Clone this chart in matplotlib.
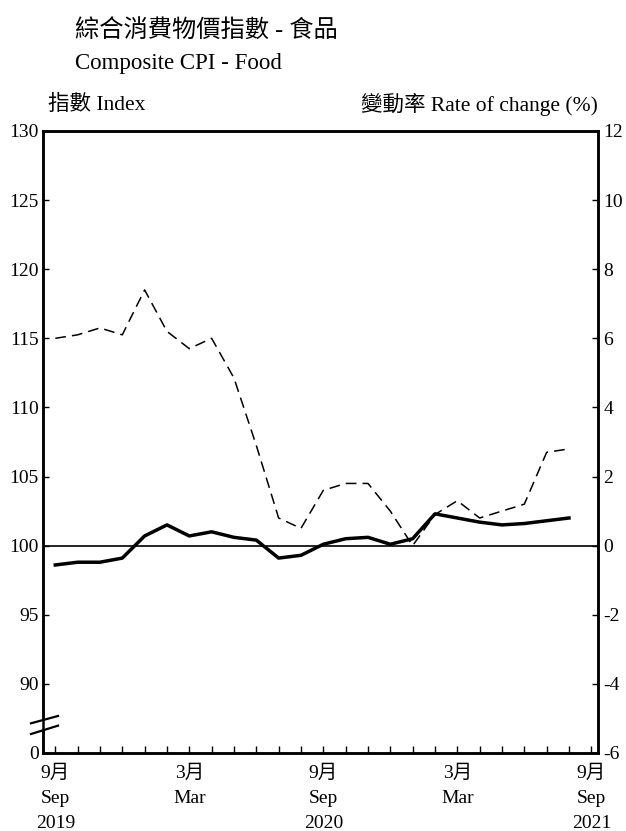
import numpy as np
import matplotlib
matplotlib.use('Agg')
import matplotlib.pyplot as plt
from matplotlib.lines import Line2D
from matplotlib.patches import Rectangle

plt.rcParams['font.family'] = ['Liberation Serif', 'Noto Sans CJK TC', 'DejaVu Sans']
plt.rcParams['axes.unicode_minus'] = False

# monthly data, Sep 2019 - Aug 2021
index_food = [98.6, 98.8, 98.8, 99.1, 100.7, 101.5, 100.7, 101.0, 100.6, 100.4,
              99.1, 99.3, 100.1, 100.5, 100.6, 100.1, 100.5, 102.3, 102.0, 101.7,
              101.5, 101.6, 101.8, 102.0]
rate_change = [6.0, 6.1, 6.3, 6.1, 7.4, 6.2, 5.7, 6.0, 4.85, 2.9,
               0.8, 0.5, 1.6, 1.8, 1.8, 1.0, 0.0, 0.9, 1.3, 0.8,
               1.0, 1.2, 2.7, 2.8]
tick_labels = ['9月\nSep\n2019', '3月\nMar', '9月\nSep\n2020', '3月\nMar', '9月\nSep\n2021']
left_ticks = [85, 90, 95, 100, 105, 110, 115, 120, 125, 130]
left_labels = ['0', '90', '95', '100', '105', '110', '115', '120', '125', '130']

months = np.arange(len(index_food))

fig = plt.figure(figsize=(6.26, 8.31), dpi=100)
ax = fig.add_axes([0.0687, 0.0939, 0.8866, 0.7485])
ax2 = ax.twinx()

ax.set_xlim(-0.55, 24.3)
ax.set_ylim(85, 130)
ax2.set_ylim(-6, 12)

ax.axhline(100, color='black', lw=1.2, zorder=1)
ax.plot(months, index_food, color='black', lw=2.5, zorder=3)
ax2.plot(months, rate_change, color='black', lw=1.1, dashes=(7, 4), zorder=2)

ax.set_yticks(left_ticks)
ax.set_yticklabels(left_labels)
ax2.set_yticks(np.arange(-6, 13, 2))
ax.set_xticks([0, 6, 12, 18, 24])
ax.set_xticks(np.arange(0, 25), minor=True)
ax.set_xticklabels(tick_labels, linespacing=1.62)

for a in (ax, ax2):
    for s in a.spines.values():
        s.set_linewidth(1.8)
ax.tick_params(axis='y', direction='in', length=4, width=1, labelsize=14, pad=3)
ax2.tick_params(axis='y', direction='in', length=4, width=1, labelsize=14, pad=4)
ax.tick_params(axis='x', which='both', direction='in', length=5, width=1, labelsize=14, pad=8)

# axis break on the left spine
ax.add_patch(Rectangle((-0.01, 0.037), 0.02, 0.016, transform=ax.transAxes,
                       facecolor='white', edgecolor='none', clip_on=False, zorder=10))
for y0, y1 in [(0.0477, 0.0595), (0.0305, 0.0439)]:
    ax.add_line(Line2D([-0.0216, 0.027], [y0, y1], transform=ax.transAxes,
                       color='black', lw=1.6, clip_on=False, zorder=11))

fig.text(0.12, 0.962, '綜合消費物價指數 - 食品', fontsize=17.5, va='center', ha='left')
fig.text(0.12, 0.923, 'Composite CPI - Food', fontsize=16.5, va='center', ha='left')
fig.text(0.077, 0.874, '指數 Index', fontsize=15.5, va='center', ha='left')
fig.text(0.955, 0.874, '變動率 Rate of change (%)', fontsize=15.5, va='center', ha='right')

fig.savefig('out.png', dpi=100)
